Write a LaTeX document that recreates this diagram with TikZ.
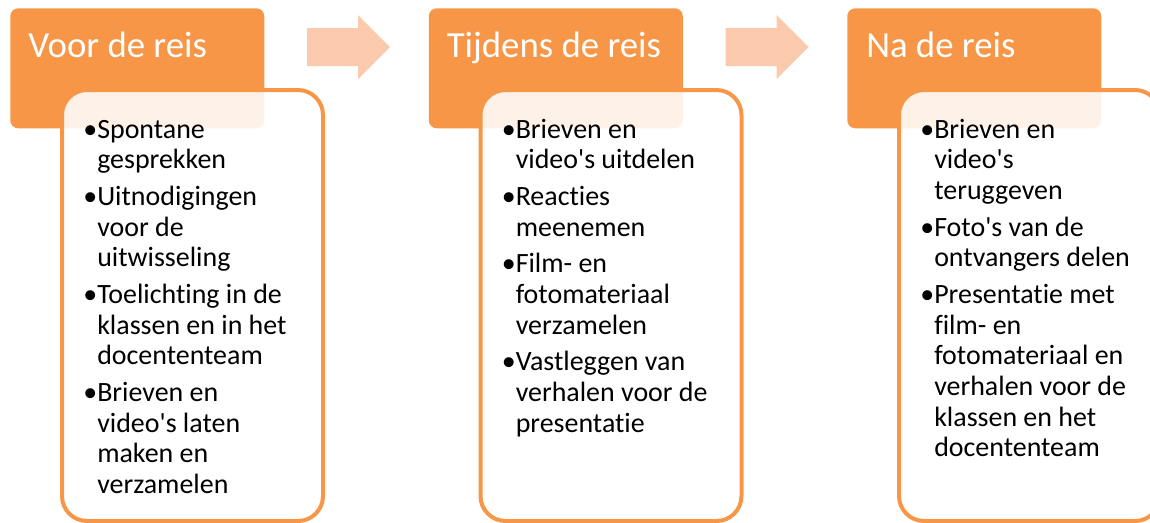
\documentclass[tikz,border=0pt]{standalone}
\usepackage{fontspec}
\setmainfont{Carlito}[Ligatures={CommonOff,TeXOff}]
\definecolor{acc}{HTML}{F79646}
\definecolor{arr}{HTML}{FBCAAD}
\tikzset{
 hdr/.style={fill=acc, rounded corners=6pt, minimum width=190.5pt, minimum height=90pt, inner sep=0pt, anchor=north west},
 bodybox/.style={draw=acc, line width=3pt, fill=white, fill opacity=0.88, draw opacity=1, rounded corners=18.75pt, minimum width=195.75pt, minimum height=323.25pt, anchor=north west, inner sep=0pt},
 ttl/.style={text=white, font=\fontsize{27.6pt}{33pt}\selectfont, anchor=base west, inner sep=0pt},
 lst/.style={anchor=base west, inner sep=0pt, text=black},
 arrw/.style={fill=arr, draw=none}
}
\newcommand{\itm}{\par\leavevmode\llap{•}}
\newcommand{\blist}[1]{\begin{minipage}[t]{230pt}\fontsize{20.95pt}{23pt}\selectfont\setlength{\parskip}{4.5pt}\setlength{\parindent}{0pt}\raggedright #1\end{minipage}}
\begin{document}
\begin{tikzpicture}[x=0.75pt,y=-0.75pt]
\useasboundingbox (0,0) rectangle (1150,522);
\clip (0,0) rectangle (1150,522);
% headers
\node[hdr] (h1) at (10,8) {};
\node[hdr] (h2) at (428.5,8) {};
\node[hdr] (h3) at (847,8) {};
% arrows
\fill[arrw] (307,28) -- (358,28) -- (358,15) -- (390,47) -- (358,79) -- (358,66) -- (307,66) -- cycle;
\fill[arrw] (725.5,28) -- (776.5,28) -- (776.5,15) -- (808.5,47) -- (776.5,79) -- (776.5,66) -- (725.5,66) -- cycle;
% body boxes
\node[bodybox] (b1) at (60,88) {};
\node[bodybox] (b2) at (478.5,88) {};
\node[bodybox] (b3) at (897,88) {};
% titles
\node[ttl] (t1) at (28,57) {Voor de reis};
\node[ttl] (t2) at (446.5,57) {Tijdens de reis};
\node[ttl] (t3) at (866,57) {Na de reis};
% lists
\node[lst] (l1) at (97,138) {\blist{%
\itm Spontane\\gesprekken
\itm Uitnodigingen\\voor de\\uitwisseling
\itm Toelichting in de\\klassen en in het\\docententeam
\itm Brieven en\\video\textquotesingle s laten\\maken en\\verzamelen}};
\node[lst] (l2) at (515.5,138) {\blist{%
\itm Brieven en\\video\textquotesingle s uitdelen
\itm Reacties\\meenemen
\itm Film- en\\fotomateriaal\\verzamelen
\itm Vastleggen van\\verhalen voor de\\presentatie}};
\node[lst] (l3) at (934,138) {\blist{%
\itm Brieven en\\video\textquotesingle s\\teruggeven
\itm Foto\textquotesingle s van de\\ontvangers delen
\itm Presentatie met\\film- en\\fotomateriaal en\\verhalen voor de\\klassen en het\\docententeam}};
\end{tikzpicture}
\end{document}
